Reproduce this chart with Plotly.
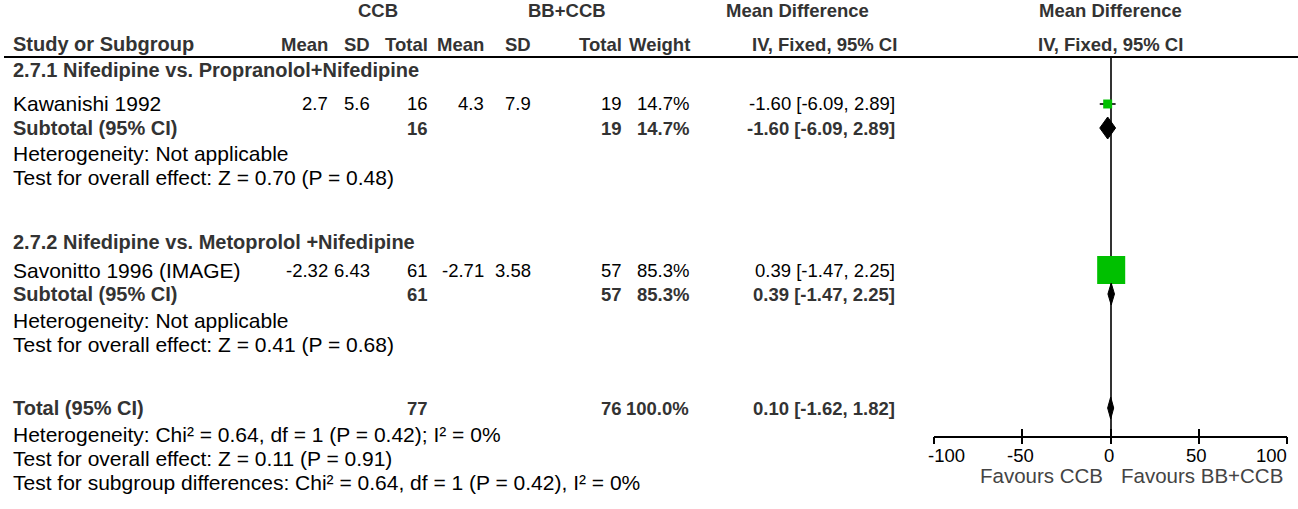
import plotly.graph_objects as go

# canvas size (px)
W, H = 1298, 509

# study level data
studies = ["Kawanishi 1992", "Savonitto 1996 (IMAGE)"]
ccb_mean = ["2.7", "-2.32"]
ccb_sd = ["5.6", "6.43"]
ccb_n = [16, 61]
bb_mean = ["4.3", "-2.71"]
bb_sd = ["7.9", "3.58"]
bb_n = [19, 57]
weight = [14.7, 85.3]
md = [-1.60, 0.39]
ci_lo = [-6.09, -1.47]
ci_hi = [2.89, 2.25]

# subgroups
subgroups = ["2.7.1 Nifedipine vs. Propranolol+Nifedipine",
             "2.7.2 Nifedipine vs. Metoprolol +Nifedipine"]
sub_n1 = [16, 61]
sub_n2 = [19, 57]
sub_w = [14.7, 85.3]
sub_md = [-1.60, 0.39]
sub_lo = [-6.09, -1.47]
sub_hi = [2.89, 2.25]
sub_het = ["Heterogeneity: Not applicable", "Heterogeneity: Not applicable"]
sub_test = ["Test for overall effect: Z = 0.70 (P = 0.48)",
            "Test for overall effect: Z = 0.41 (P = 0.68)"]

# overall
tot_n1, tot_n2, tot_w = 77, 76, 100.0
tot_md, tot_lo, tot_hi = 0.10, -1.62, 1.82
footer = ["Heterogeneity: Chi² = 0.64, df = 1 (P = 0.42); I² = 0%",
          "Test for overall effect: Z = 0.11 (P = 0.91)",
          "Test for subgroup differences: Chi² = 0.64, df = 1 (P = 0.42), I² = 0%"]

ticks = [-100, -50, 0, 50, 100]
favours = ["Favours CCB", "Favours BB+CCB"]

# layout (pixel rows / columns)
FONT = "Liberation Sans, Arial, sans-serif"
FS = 18.5       # numbers / column headers
FS_BLAB = 20    # bold left-hand labels
FS_LAB = 21     # regular left-hand labels and statistics lines
BOLDC = "#333333"
GREEN = "#00c000"
Y_H1, Y_H2, Y_RULE = 11, 44, 57
Y_TITLE = [70, 242]
Y_STUDY = [104, 270]
Y_SUB = [128, 294]
Y_HET = [153, 320]
Y_TEST = [177, 344]
Y_TOT = 408
Y_FOOT = [434, 458, 482]
Y_AXIS = 436
X_LEFT = 11
COLS = [330, 372, 430, 486, 533, 624, 691, 897]  # right edges
HEAD_COLS = [330, 372, 430, 486, 533, 624, 692, 899]
PLOT_X0, PLOT_X1 = 934, 1287

fig = go.Figure()
ann = []


def txt(x, y, s, anchor="right", bold=False, color="black", size=FS):
    ann.append(dict(x=x / W, y=1 - y / H, xref="paper", yref="paper",
                    text=f"<b>{s}</b>" if bold else s, showarrow=False,
                    xanchor=anchor, yanchor="middle",
                    font=dict(family=FONT, size=size, color=BOLDC if bold else color)))


def ci_text(m, lo, hi):
    return f"{m:.2f} [{lo:.2f}, {hi:.2f}]"


# headers
txt(378, Y_H1, "CCB", "center", True)
txt(567, Y_H1, "BB+CCB", "center", True)
txt(797, Y_H1, "Mean Difference", "center", True)
txt(1110, Y_H1, "Mean Difference", "center", True)
txt(X_LEFT, Y_H2, "Study or Subgroup", "left", True, size=FS_BLAB)
for s, x in zip(["Mean", "SD", "Total", "Mean", "SD", "Total", "Weight", "IV, Fixed, 95% CI"], HEAD_COLS):
    txt(x, Y_H2, s, "right", True)
txt(1110, Y_H2, "IV, Fixed, 95% CI", "center", True)

# table body
for i, g in enumerate(subgroups):
    txt(X_LEFT, Y_TITLE[i], g, "left", True, size=FS_BLAB)
    row = [ccb_mean[i], ccb_sd[i], ccb_n[i], bb_mean[i], bb_sd[i], bb_n[i],
           f"{weight[i]:.1f}%", ci_text(md[i], ci_lo[i], ci_hi[i])]
    txt(X_LEFT, Y_STUDY[i], studies[i], "left", size=FS_LAB)
    for v, x in zip(row, COLS):
        txt(x, Y_STUDY[i], v)
    txt(X_LEFT, Y_SUB[i], "Subtotal (95% CI)", "left", True, size=FS_BLAB)
    for v, x in zip([sub_n1[i], sub_n2[i], f"{sub_w[i]:.1f}%",
                     ci_text(sub_md[i], sub_lo[i], sub_hi[i])],
                    [COLS[2], COLS[5], COLS[6], COLS[7]]):
        txt(x, Y_SUB[i], v, "right", True)
    txt(X_LEFT, Y_HET[i], sub_het[i], "left", size=FS_LAB)
    txt(X_LEFT, Y_TEST[i], sub_test[i], "left", size=FS_LAB)

txt(X_LEFT, Y_TOT, "Total (95% CI)", "left", True, size=FS_BLAB)
for v, x in zip([tot_n1, tot_n2, f"{tot_w:.1f}%", ci_text(tot_md, tot_lo, tot_hi)],
                [COLS[2], COLS[5], COLS[6], COLS[7]]):
    txt(x, Y_TOT, v, "right", True)
for s, y in zip(footer, Y_FOOT):
    txt(X_LEFT, y, s, "left", size=FS_LAB)

# CI whiskers (drawn first, below the squares)
fig.add_trace(go.Scatter(
    x=md, y=Y_STUDY, mode="markers", marker=dict(size=1, opacity=0),
    error_x=dict(type="data", symmetric=False,
                 array=[h - m for h, m in zip(ci_hi, md)],
                 arrayminus=[m - l for m, l in zip(md, ci_lo)],
                 color="#333333", thickness=2, width=0),
    hoverinfo="skip", showlegend=False))

# study squares
fig.add_trace(go.Scatter(
    x=md, y=Y_STUDY, mode="markers",
    marker=dict(symbol="square", color=GREEN, opacity=1,
                size=[5 + 0.27 * w for w in weight], line=dict(width=0)),
    hoverinfo="skip", showlegend=False))

# diamonds for subtotals and total
HALF = 11
for m, lo, hi, yc in list(zip(sub_md, sub_lo, sub_hi, Y_SUB)) + [(tot_md, tot_lo, tot_hi, Y_TOT)]:
    fig.add_trace(go.Scatter(
        x=[lo, m, hi, m, lo], y=[yc, yc - HALF, yc, yc + HALF, yc],
        mode="lines", fill="toself", fillcolor="black",
        line=dict(color="black", width=1), hoverinfo="skip", showlegend=False))

# dummy trace so the outer tick axis is drawn
fig.add_trace(go.Scatter(x=ticks, y=[Y_AXIS] * len(ticks), xaxis="x2", mode="markers",
                         marker=dict(opacity=0), hoverinfo="skip", showlegend=False))

# tick labels and favours labels
for j, v in enumerate(ticks):
    anchor = "left" if j == 0 else ("right" if j == len(ticks) - 1 else "center")
    shift = -8 if j == 0 else (2 if j == len(ticks) - 1 else -2)
    ann.append(dict(x=v, y=1 - 455 / H, xref="x", yref="paper", text=str(v),
                    showarrow=False, xanchor=anchor, yanchor="middle", xshift=shift,
                    font=dict(family=FONT, size=FS, color="black")))
ann.append(dict(x=0, y=1 - 475 / H, xref="x", yref="paper", text=favours[0],
                showarrow=False, xanchor="right", yanchor="middle", xshift=-6,
                font=dict(family=FONT, size=20.5, color="#444444")))
ann.append(dict(x=0, y=1 - 475 / H, xref="x", yref="paper", text=favours[1],
                showarrow=False, xanchor="left", yanchor="middle", xshift=8,
                font=dict(family=FONT, size=20.5, color="#444444")))

dom_x = [PLOT_X0 / W, PLOT_X1 / W]
fig.update_layout(
    width=W, height=H, margin=dict(l=0, r=0, t=0, b=0),
    plot_bgcolor="white", paper_bgcolor="white",
    annotations=ann,
    xaxis=dict(domain=dom_x, range=[ticks[0], ticks[-1]], showline=True,
               linecolor="black", linewidth=2, ticks="inside", ticklen=7,
               tickwidth=2, tickcolor="black", tickvals=ticks,
               showticklabels=False, showgrid=False, zeroline=True,
               zerolinecolor="#333333", zerolinewidth=2, fixedrange=True),
    xaxis2=dict(domain=dom_x, overlaying="x", anchor="y", side="bottom",
                range=[ticks[0], ticks[-1]], ticks="outside", ticklen=7,
                tickwidth=2, tickcolor="black", tickvals=ticks,
                showticklabels=False, showgrid=False, zeroline=False,
                showline=False, fixedrange=True),
    yaxis=dict(domain=[1 - Y_AXIS / H, 1 - Y_RULE / H], range=[Y_AXIS, Y_RULE],
               visible=False, showgrid=False, zeroline=False, fixedrange=True),
    shapes=[dict(type="line", xref="paper", yref="paper", x0=4 / W, x1=1,
                 y0=1 - Y_RULE / H, y1=1 - Y_RULE / H,
                 line=dict(color="black", width=2))],
)

fig.write_html("out.html", config={"displayModeBar": False},
               post_script="document.body.style.margin='0';document.body.style.overflow='hidden';")
